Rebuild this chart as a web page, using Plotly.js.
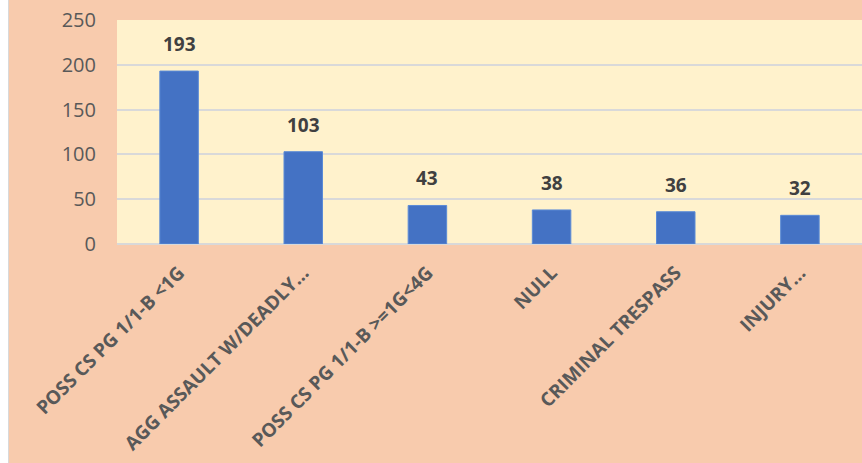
<!DOCTYPE html>
<html>
<head>
<meta charset="utf-8">
<script src="https://cdn.plot.ly/plotly-3.0.1.min.js"></script>
<style>
html,body{margin:0;padding:0;background:#ffffff;width:862px;height:463px;overflow:hidden;}
#wrap{position:absolute;left:8px;top:0;width:854px;height:463px;border-left:1px solid #D9D9D9;}
#chart{width:853px;height:463px;}
</style>
</head>
<body>
<div id="wrap"><div id="chart"></div></div>
<script>
const categories = ["POSS CS PG 1/1-B <1G", "AGG ASSAULT W/DEADLY…", "POSS CS PG 1/1-B >=1G<4G", "NULL", "CRIMINAL TRESPASS", "INJURY…"];
const counts = [193, 103, 43, 38, 36, 32];
const yTicks = [0, 50, 100, 150, 200, 250];

const font = "'Open Sans', 'Liberation Sans', sans-serif";

const annotations = categories.map((c, i) => ({
  x: c, y: counts[i], xref: 'x', yref: 'y',
  text: '<b>' + counts[i] + '</b>', showarrow: false,
  yanchor: 'bottom', yshift: 12,
  font: {family: font, size: 19, color: '#404040'}
}));

Plotly.newPlot('chart', [{
  type: 'bar', x: categories, y: counts,
  marker: {color: '#4472C4', line: {color: '#5B8BD6', width: 1}},
  width: 0.31, hoverinfo: 'none'
}], {
  width: 853, height: 463,
  margin: {l: 108, r: 0, t: 20, b: 219, pad: 0},
  paper_bgcolor: '#F8CBAD', plot_bgcolor: '#FFF2CC',
  showlegend: false,
  xaxis: {
    type: 'category', tickangle: -45, showgrid: false, zeroline: false, showline: false,
    ticks: '', automargin: false, ticklabelstandoff: 13,
    tickfont: {family: font, size: 19, color: '#595959', weight: 'bold'}
  },
  yaxis: {
    range: [0, 250], tickvals: yTicks, ticktext: yTicks.map(String),
    showgrid: true, gridcolor: '#D9D9D9', gridwidth: 2,
    zeroline: true, zerolinecolor: '#D9D9D9', zerolinewidth: 2,
    showline: false, ticks: '', ticklabelstandoff: 20, automargin: false,
    tickfont: {family: font, size: 20, color: '#595959'}
  },
  annotations: annotations
}, {staticPlot: true});
</script>
</body>
</html>
